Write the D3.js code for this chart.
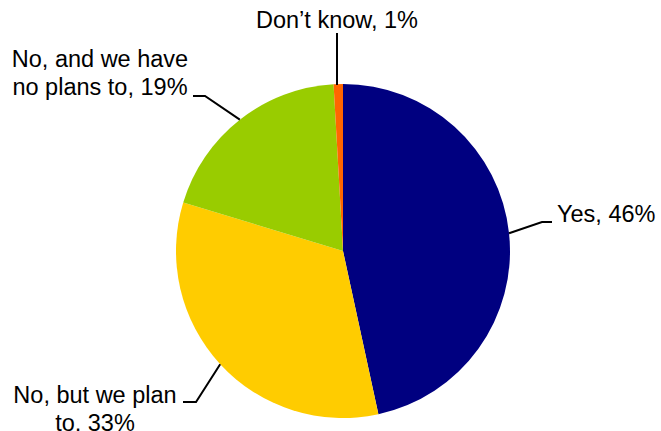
<!DOCTYPE html>
<html>
<head>
<meta charset="utf-8">
<script src="https://cdn.jsdelivr.net/npm/d3@7/dist/d3.min.js"></script>
<style>
  html, body { margin: 0; padding: 0; background: #fff; }
  svg { display: block; }
  text { font-family: "Liberation Sans", Arial, sans-serif; font-size: 23.5px; fill: #000; }
</style>
</head>
<body>
<script>
// 数据
const categories = ["Yes", "No, but we plan to", "No, and we have no plans to", "Don\u2019t know"];
const values = [46.6, 33.1, 19.4, 0.9];
const labelLines = [
  ["Yes, 46%"],
  ["No, but we plan", "to, 33%"],
  ["No, and we have", "no plans to, 19%"],
  ["Don\u2019t know, 1%"]
];
const colors = ["#000080", "#FFCC00", "#99CC00", "#FF6600"];

const width = 661, height = 431;
const cx = 343, cy = 251, radius = 167;

// 标签布局（引导线拐点和文字位置）
const layout = [
  { elbow: [542, 222], end: [552, 222], tx: 557, ty: 222, anchor: "start" },
  { elbow: [196, 402], end: [183, 402], tx: 95, ty: 403, anchor: "middle" },
  { elbow: [205, 96], end: [193, 96], tx: 100, ty: 67, anchor: "middle" },
  { elbow: [337, 33], end: [337, 33], tx: 337, ty: 28, anchor: "middle" }
];

const svg = d3.select("body").append("svg")
  .attr("width", width)
  .attr("height", height);

const data = categories.map((c, i) => ({ name: c, value: values[i], i: i }));

const pie = d3.pie().sort(null).value(d => d.value);
const arcs = pie(data);

const arc = d3.arc().innerRadius(0).outerRadius(radius);

const g = svg.append("g").attr("transform", `translate(${cx},${cy})`);

g.selectAll("path.slice")
  .data(arcs)
  .enter().append("path")
  .attr("class", "slice")
  .attr("d", arc)
  .attr("fill", d => colors[d.data.i]);

// 引导线
arcs.forEach(d => {
  const L = layout[d.data.i];
  const mid = (d.startAngle + d.endAngle) / 2;
  const px = cx + radius * Math.sin(mid);
  const py = cy - radius * Math.cos(mid);
  let pts;
  if (d.data.i === 3) {
    pts = [[L.elbow[0], py + 1], L.elbow];
  } else {
    pts = [[px, py], L.elbow, L.end];
  }
  svg.append("path")
    .attr("d", d3.line()(pts))
    .attr("fill", "none")
    .attr("stroke", "#000")
    .attr("stroke-width", 2);

  const t = svg.append("text")
    .attr("text-anchor", L.anchor);
  labelLines[d.data.i].forEach((ln, k) => {
    t.append("tspan")
      .attr("x", L.tx)
      .attr("y", L.ty + k * 28)
      .text(ln);
  });
});
</script>
</body>
</html>
